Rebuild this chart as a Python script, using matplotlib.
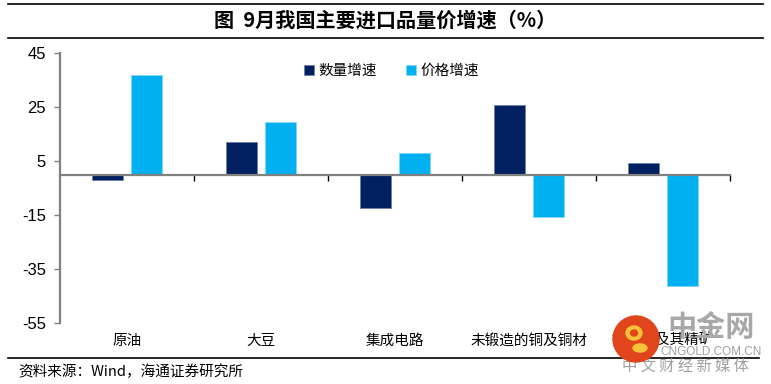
import numpy as np
import matplotlib
matplotlib.use("Agg")
import matplotlib.pyplot as plt
from matplotlib.patches import Ellipse, Wedge

plt.rcParams['font.family'] = ['Noto Sans CJK SC', 'DejaVu Sans']

# data
categories = ['原油', '大豆', '集成电路', '未锻造的铜及铜材', '铁矿砂及其精矿']
qty_growth = [-2.0, 12.3, -12.3, 25.7, 4.3]
price_growth = [37.0, 19.5, 8.0, -15.7, -41.1]
yticks = [45, 25, 5, -15, -35, -55]

navy = '#002060'
sky = '#00B0F0'

W, H = 771, 384
fig = plt.figure(figsize=(W / 100, H / 100), dpi=100)
ax = fig.add_axes([60 / W, 1 - 323.3 / H, 670 / W, 270 / H])


def fx(px):
    return px / W


def fy(py):
    return 1 - py / H


x = np.arange(len(categories))
w = 0.225
ax.bar(x - 0.145, qty_growth, w, color=navy, edgecolor='#6f7fa8', linewidth=0.6,
       label='数量增速', zorder=2)
ax.bar(x + 0.145, price_growth, w, color=sky, edgecolor='#7fd6f7', linewidth=0.6,
       label='价格增速', zorder=2)

ax.set_xlim(-0.5, len(categories) - 0.5)
ax.set_ylim(-55, 45)
ax.set_yticks(yticks)
ax.set_yticklabels([str(t) for t in yticks], family='Liberation Sans', fontsize=12)
ax.tick_params(axis='y', direction='out', length=4, width=1, color='#808080', pad=6)

# x axis sits on zero, ticks at category boundaries
ax.spines['bottom'].set_position(('data', 0))
ax.spines['bottom'].set_color('#808080')
ax.spines['bottom'].set_linewidth(1.6)
ax.spines['left'].set_color('#808080')
ax.spines['left'].set_linewidth(1.6)
ax.spines['top'].set_visible(False)
ax.spines['right'].set_visible(False)
ax.set_xticks(np.arange(len(categories)) + 0.5)
ax.set_xticklabels([])
ax.tick_params(axis='x', direction='out', length=4, width=1, color='black')

for i, c in enumerate(categories):
    ax.text(i, -61.5, c, ha='center', va='center', fontsize=10.5)

ax.legend(loc='upper center', bbox_to_anchor=(0.495, 1.01), ncol=2, frameon=False,
          fontsize=10.5, handlelength=0.7, handleheight=0.7, handletextpad=0.3,
          columnspacing=2.0)

# title and frame lines
fig.text(0.5, fy(20), '图  9月我国主要进口品量价增速（%）', ha='center', va='center',
         fontsize=14.5, fontweight='bold')
for yy in (4, 38):
    fig.add_artist(plt.Line2D([0.01, 0.99], [fy(yy), fy(yy)], color='black', lw=1.2))
fig.add_artist(plt.Line2D([0.01, 0.985], [fy(358), fy(358)], color='black', lw=1.2))
fig.text(fx(18), fy(372), '资料来源：Wind，海通证券研究所', ha='left', va='center',
         fontsize=10.5)

# watermark
r = 23
fig.add_artist(Ellipse((fx(636), fy(339)), 2 * r / W, 2 * r / H,
                       transform=fig.transFigure, color='#e0451c', zorder=5))
fig.add_artist(Ellipse((fx(634), fy(333)), 16 / W, 14 / H,
                       transform=fig.transFigure, color='#f7c23a', zorder=6))
fig.add_artist(Ellipse((fx(634), fy(333)), 7 / W, 6 / H,
                       transform=fig.transFigure, color='#e0451c', zorder=7))
fig.add_artist(Ellipse((fx(640), fy(348)), 14 / W, 8 / H, angle=0,
                       transform=fig.transFigure, color='#f7c23a', zorder=6))
fig.text(fx(711), fy(327), '中金网', ha='center', va='center', fontsize=21,
         fontweight='bold', color='#a8a8a8', zorder=4)
fig.text(fx(711), fy(352), 'CNGOLD.COM.CN', ha='center', va='center', fontsize=8.5,
         family='Liberation Sans', color='#a0a0a0')
fig.text(fx(686), fy(366), '中 文 财 经 新 媒 体', ha='center', va='center',
         fontsize=11, color='#a0a0a0')

fig.savefig('out.png', dpi=100, facecolor='white')
